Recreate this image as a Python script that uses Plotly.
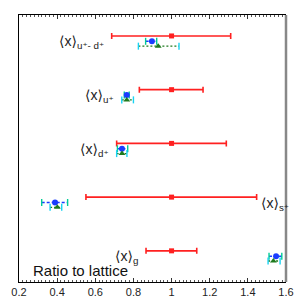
import plotly.graph_objects as go

labels = ["⟨x⟩<sub>u⁺- d⁺</sub>", "⟨x⟩<sub>u⁺</sub>", "⟨x⟩<sub>d⁺</sub>", "⟨x⟩<sub>s⁺</sub>", "⟨x⟩<sub>g</sub>"]
rows = [5, 4, 3, 2, 1]

# lattice (red) ratio = 1 with error range
red_c = [1.0, 1.0, 1.0, 1.0, 1.0]
red_lo = [0.686, 0.831, 0.712, 0.551, 0.866]
red_hi = [1.310, 1.165, 1.287, 1.446, 1.132]

# blue series
blue_c = [0.897, 0.765, 0.740, 0.389, 1.548]
blue_lo = [0.864, 0.752, 0.716, 0.319, 1.511]
blue_hi = [0.922, 0.778, 0.770, 0.455, 1.578]

# green series
green_c = [0.930, 0.765, 0.740, 0.401, 1.534]
green_lo = [0.826, 0.739, 0.712, 0.363, 1.506]
green_hi = [1.039, 0.800, 0.766, 0.424, 1.569]

label_side = ["left", "left", "left", "right", "left"]

BLUE_OFF = -0.10
GREEN_OFF = -0.19

fig = go.Figure()

# red: solid error bars
fig.add_trace(go.Scatter(
    x=red_c, y=rows, mode="markers",
    marker=dict(symbol="square", size=5, color="#ff2020"),
    error_x=dict(type="data", symmetric=False,
                 array=[h - c for h, c in zip(red_hi, red_c)],
                 arrayminus=[c - l for c, l in zip(red_c, red_lo)],
                 color="#ff2020", thickness=1.6, width=3),
    showlegend=False, hoverinfo="skip"))


def dashed_series(c, lo, hi, off, color, symbol, size, dash):
    xs, ys, cx, cy = [], [], [], []
    for ci, l, h, r in zip(c, lo, hi, rows):
        xs += [l, h, None]
        ys += [r + off, r + off, None]
        cx += [l, h]
        cy += [r + off, r + off]
    fig.add_trace(go.Scatter(x=xs, y=ys, mode="lines",
                             line=dict(color=color, width=1.4, dash=dash),
                             showlegend=False, hoverinfo="skip"))
    fig.add_trace(go.Scatter(x=cx, y=cy, mode="markers",
                             marker=dict(symbol="line-ns-open", size=5,
                                         line=dict(color=color, width=1.4)),
                             showlegend=False, hoverinfo="skip"))
    fig.add_trace(go.Scatter(x=c, y=[r + off for r in rows], mode="markers",
                             marker=dict(symbol=symbol, size=size, color=color),
                             showlegend=False, hoverinfo="skip"))


dashed_series(blue_c, blue_lo, blue_hi, BLUE_OFF, "#1a3cff", "circle", 6, "3px,2px")
dashed_series(green_c, green_lo, green_hi, GREEN_OFF, "#1e7a1e", "triangle-up", 6, "2px,2px")

font_main = "Liberation Sans, Arial, DejaVu Sans, sans-serif"

for i, r in enumerate(rows):
    if label_side[i] == "left":
        xpos = min(red_lo[i], blue_lo[i], green_lo[i]) - 0.03
        xa = "right"
    else:
        xpos = red_hi[i] + 0.01
        xa = "left"
    fig.add_annotation(x=xpos, y=r - 0.12, text=labels[i], showarrow=False,
                       xanchor=xa, yanchor="middle",
                       font=dict(family=font_main, size=14, color="#222222"))

fig.add_annotation(xref="paper", yref="paper", x=0.045, y=0.005,
                   text="Ratio to lattice", showarrow=False,
                   xanchor="left", yanchor="bottom",
                   font=dict(family=font_main, size=15, color="#111111"))

# gray right border
fig.add_shape(type="line", xref="paper", yref="paper", x0=1, x1=1, y0=0, y1=1,
              line=dict(color="#888888", width=2.5))

fig.update_xaxes(range=[0.2, 1.6], tickmode="linear", tick0=0.2, dtick=0.2,
                 ticks="inside", ticklen=4, tickwidth=1, tickcolor="#333333",
                 minor=dict(dtick=0.02, ticks="inside", ticklen=2, tickcolor="#555555"),
                 showline=True, linecolor="black", linewidth=1.2, mirror="ticks",
                 showgrid=False, zeroline=False, automargin=False,
                 tickfont=dict(family=font_main, size=11, color="#222222"))
fig.update_yaxes(range=[0.42, 5.39], showticklabels=False, ticks="",
                 showline=True, linecolor="black", linewidth=1.2, mirror=False,
                 showgrid=False, zeroline=False, automargin=False)

fig.update_layout(width=308, height=308, margin=dict(l=19, r=22, t=15, b=26),
                  plot_bgcolor="white", paper_bgcolor="white")

fig.write_html("out.html", config={"displayModeBar": False},
               post_script="document.body.style.margin='0';")
